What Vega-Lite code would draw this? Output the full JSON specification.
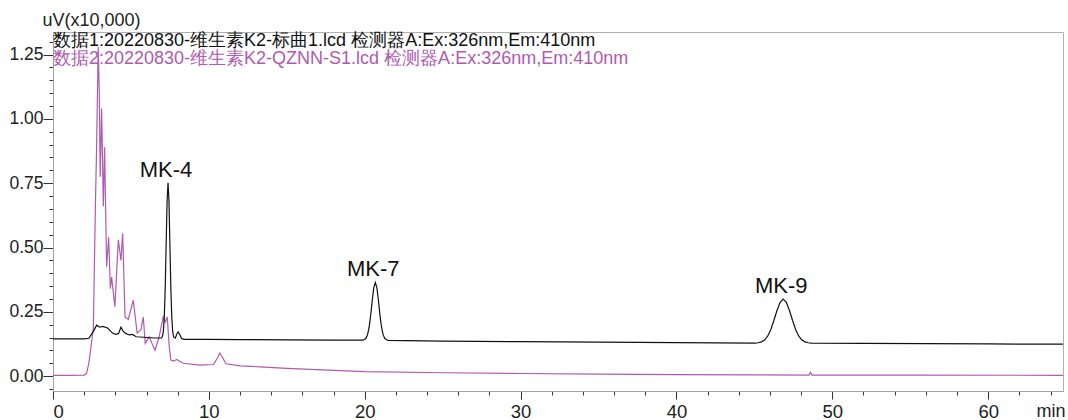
{
  "$schema": "https://vega.github.io/schema/vega-lite/v6.json",
  "width": 1010,
  "height": 359,
  "autosize": {"type": "none"},
  "padding": {"left": 53, "top": 32, "right": 5, "bottom": 29},
  "background": "white",
  "config": {
    "font": "Liberation Sans",
    "view": {"stroke": "#b0b0b0", "strokeWidth": 1},
    "axis": {"grid": false, "domainColor": "#a0a0a0", "tickColor": "#333333", "labelColor": "#222222", "labelFont": "Liberation Sans", "titleFont": "Liberation Sans", "titleFontWeight": "normal", "titleColor": "#222222"}
  },
  "title": {
    "text": "数据1:20220830-维生素K2-标曲1.lcd 检测器A:Ex:326nm,Em:410nm",
    "subtitle": "数据2:20220830-维生素K2-QZNN-S1.lcd 检测器A:Ex:326nm,Em:410nm",
    "anchor": "start",
    "frame": "group",
    "orient": "top",
    "offset": -57,
    "font": "Liberation Sans",
    "fontSize": 18,
    "fontWeight": "normal",
    "color": "#111111",
    "subtitleFont": "Liberation Sans",
    "subtitleFontSize": 18,
    "subtitleColor": "#b05ab0",
    "subtitlePadding": 0.5
  },
  "datasets": {
    "trace": [
      {"t": 0, "v": 0.145, "s": "数据1"},
      {"t": 1, "v": 0.145, "s": "数据1"},
      {"t": 2, "v": 0.145, "s": "数据1"},
      {"t": 2.3, "v": 0.147, "s": "数据1"},
      {"t": 2.6, "v": 0.175, "s": "数据1"},
      {"t": 2.8, "v": 0.198, "s": "数据1"},
      {"t": 3.0, "v": 0.19, "s": "数据1"},
      {"t": 3.2, "v": 0.193, "s": "数据1"},
      {"t": 3.5, "v": 0.187, "s": "数据1"},
      {"t": 3.8, "v": 0.168, "s": "数据1"},
      {"t": 4.0, "v": 0.162, "s": "数据1"},
      {"t": 4.2, "v": 0.165, "s": "数据1"},
      {"t": 4.36, "v": 0.19, "s": "数据1"},
      {"t": 4.5, "v": 0.175, "s": "数据1"},
      {"t": 4.66, "v": 0.166, "s": "数据1"},
      {"t": 4.9, "v": 0.16, "s": "数据1"},
      {"t": 5.1, "v": 0.162, "s": "数据1"},
      {"t": 5.34, "v": 0.153, "s": "数据1"},
      {"t": 5.6, "v": 0.152, "s": "数据1"},
      {"t": 6.0, "v": 0.15, "s": "数据1"},
      {"t": 6.5, "v": 0.148, "s": "数据1"},
      {"t": 6.96, "v": 0.148, "s": "数据1"},
      {"t": 7.02, "v": 0.154, "s": "数据1"},
      {"t": 7.08, "v": 0.173, "s": "数据1"},
      {"t": 7.14, "v": 0.229, "s": "数据1"},
      {"t": 7.2, "v": 0.343, "s": "数据1"},
      {"t": 7.26, "v": 0.514, "s": "数据1"},
      {"t": 7.32, "v": 0.681, "s": "数据1"},
      {"t": 7.38, "v": 0.752, "s": "数据1"},
      {"t": 7.44, "v": 0.681, "s": "数据1"},
      {"t": 7.5, "v": 0.514, "s": "数据1"},
      {"t": 7.56, "v": 0.343, "s": "数据1"},
      {"t": 7.62, "v": 0.229, "s": "数据1"},
      {"t": 7.68, "v": 0.173, "s": "数据1"},
      {"t": 7.74, "v": 0.152, "s": "数据1"},
      {"t": 7.85, "v": 0.148, "s": "数据1"},
      {"t": 7.95, "v": 0.165, "s": "数据1"},
      {"t": 8.03, "v": 0.172, "s": "数据1"},
      {"t": 8.12, "v": 0.163, "s": "数据1"},
      {"t": 8.25, "v": 0.146, "s": "数据1"},
      {"t": 8.4, "v": 0.143, "s": "数据1"},
      {"t": 10, "v": 0.143, "s": "数据1"},
      {"t": 12, "v": 0.142, "s": "数据1"},
      {"t": 15, "v": 0.141, "s": "数据1"},
      {"t": 18, "v": 0.14, "s": "数据1"},
      {"t": 19.88, "v": 0.14, "s": "数据1"},
      {"t": 19.98, "v": 0.142, "s": "数据1"},
      {"t": 20.08, "v": 0.147, "s": "数据1"},
      {"t": 20.18, "v": 0.161, "s": "数据1"},
      {"t": 20.28, "v": 0.189, "s": "数据1"},
      {"t": 20.38, "v": 0.236, "s": "数据1"},
      {"t": 20.48, "v": 0.293, "s": "数据1"},
      {"t": 20.58, "v": 0.344, "s": "数据1"},
      {"t": 20.68, "v": 0.364, "s": "数据1"},
      {"t": 20.78, "v": 0.344, "s": "数据1"},
      {"t": 20.88, "v": 0.293, "s": "数据1"},
      {"t": 20.98, "v": 0.236, "s": "数据1"},
      {"t": 21.08, "v": 0.189, "s": "数据1"},
      {"t": 21.18, "v": 0.161, "s": "数据1"},
      {"t": 21.28, "v": 0.147, "s": "数据1"},
      {"t": 21.38, "v": 0.142, "s": "数据1"},
      {"t": 21.5, "v": 0.139, "s": "数据1"},
      {"t": 25, "v": 0.136, "s": "数据1"},
      {"t": 30, "v": 0.134, "s": "数据1"},
      {"t": 35, "v": 0.132, "s": "数据1"},
      {"t": 40, "v": 0.13, "s": "数据1"},
      {"t": 45.05, "v": 0.128, "s": "数据1"},
      {"t": 45.25, "v": 0.1295, "s": "数据1"},
      {"t": 45.45, "v": 0.133, "s": "数据1"},
      {"t": 45.65, "v": 0.14, "s": "数据1"},
      {"t": 45.85, "v": 0.155, "s": "数据1"},
      {"t": 46.05, "v": 0.18, "s": "数据1"},
      {"t": 46.25, "v": 0.216, "s": "数据1"},
      {"t": 46.45, "v": 0.255, "s": "数据1"},
      {"t": 46.65, "v": 0.287, "s": "数据1"},
      {"t": 46.85, "v": 0.299, "s": "数据1"},
      {"t": 47.05, "v": 0.287, "s": "数据1"},
      {"t": 47.25, "v": 0.255, "s": "数据1"},
      {"t": 47.45, "v": 0.216, "s": "数据1"},
      {"t": 47.65, "v": 0.18, "s": "数据1"},
      {"t": 47.85, "v": 0.155, "s": "数据1"},
      {"t": 48.05, "v": 0.14, "s": "数据1"},
      {"t": 48.25, "v": 0.133, "s": "数据1"},
      {"t": 48.45, "v": 0.1295, "s": "数据1"},
      {"t": 48.65, "v": 0.128, "s": "数据1"},
      {"t": 52, "v": 0.127, "s": "数据1"},
      {"t": 56, "v": 0.126, "s": "数据1"},
      {"t": 60, "v": 0.125, "s": "数据1"},
      {"t": 64.8, "v": 0.124, "s": "数据1"},
      {"t": 0, "v": 0.003, "s": "数据2"},
      {"t": 1, "v": 0.003, "s": "数据2"},
      {"t": 2.0, "v": 0.004, "s": "数据2"},
      {"t": 2.15, "v": 0.01, "s": "数据2"},
      {"t": 2.3, "v": 0.05, "s": "数据2"},
      {"t": 2.45, "v": 0.12, "s": "数据2"},
      {"t": 2.59, "v": 0.19, "s": "数据2"},
      {"t": 2.66, "v": 0.45, "s": "数据2"},
      {"t": 2.72, "v": 0.66, "s": "数据2"},
      {"t": 2.8, "v": 0.9, "s": "数据2"},
      {"t": 2.9, "v": 1.28, "s": "数据2"},
      {"t": 2.97, "v": 1.1, "s": "数据2"},
      {"t": 3.03, "v": 0.775, "s": "数据2"},
      {"t": 3.12, "v": 1.04, "s": "数据2"},
      {"t": 3.23, "v": 0.66, "s": "数据2"},
      {"t": 3.31, "v": 0.89, "s": "数据2"},
      {"t": 3.44, "v": 0.425, "s": "数据2"},
      {"t": 3.57, "v": 0.54, "s": "数据2"},
      {"t": 3.68, "v": 0.34, "s": "数据2"},
      {"t": 3.76, "v": 0.385, "s": "数据2"},
      {"t": 3.97, "v": 0.27, "s": "数据2"},
      {"t": 4.19, "v": 0.53, "s": "数据2"},
      {"t": 4.36, "v": 0.45, "s": "数据2"},
      {"t": 4.47, "v": 0.555, "s": "数据2"},
      {"t": 4.62, "v": 0.23, "s": "数据2"},
      {"t": 4.83, "v": 0.22, "s": "数据2"},
      {"t": 5.15, "v": 0.295, "s": "数据2"},
      {"t": 5.4, "v": 0.167, "s": "数据2"},
      {"t": 5.64, "v": 0.18, "s": "数据2"},
      {"t": 5.79, "v": 0.23, "s": "数据2"},
      {"t": 5.92, "v": 0.127, "s": "数据2"},
      {"t": 6.17, "v": 0.153, "s": "数据2"},
      {"t": 6.54, "v": 0.1, "s": "数据2"},
      {"t": 6.8, "v": 0.15, "s": "数据2"},
      {"t": 7.07, "v": 0.23, "s": "数据2"},
      {"t": 7.2, "v": 0.21, "s": "数据2"},
      {"t": 7.33, "v": 0.23, "s": "数据2"},
      {"t": 7.45, "v": 0.12, "s": "数据2"},
      {"t": 7.56, "v": 0.062, "s": "数据2"},
      {"t": 7.75, "v": 0.058, "s": "数据2"},
      {"t": 7.93, "v": 0.065, "s": "数据2"},
      {"t": 8.35, "v": 0.05, "s": "数据2"},
      {"t": 9.42, "v": 0.043, "s": "数据2"},
      {"t": 10.3, "v": 0.045, "s": "数据2"},
      {"t": 10.55, "v": 0.07, "s": "数据2"},
      {"t": 10.7, "v": 0.09, "s": "数据2"},
      {"t": 10.85, "v": 0.075, "s": "数据2"},
      {"t": 11.1, "v": 0.048, "s": "数据2"},
      {"t": 12, "v": 0.04, "s": "数据2"},
      {"t": 13.27, "v": 0.036, "s": "数据2"},
      {"t": 15, "v": 0.03, "s": "数据2"},
      {"t": 18, "v": 0.022, "s": "数据2"},
      {"t": 20, "v": 0.017, "s": "数据2"},
      {"t": 25, "v": 0.013, "s": "数据2"},
      {"t": 30, "v": 0.01, "s": "数据2"},
      {"t": 35, "v": 0.008, "s": "数据2"},
      {"t": 40, "v": 0.006, "s": "数据2"},
      {"t": 45, "v": 0.005, "s": "数据2"},
      {"t": 48.5, "v": 0.004, "s": "数据2"},
      {"t": 48.6, "v": 0.015, "s": "数据2"},
      {"t": 48.7, "v": 0.004, "s": "数据2"},
      {"t": 55, "v": 0.004, "s": "数据2"},
      {"t": 64.8, "v": 0.003, "s": "数据2"}
    ],
    "labels": [
      {"label": "MK-4", "t": 7.38, "v": 0.752},
      {"label": "MK-7", "t": 20.68, "v": 0.364},
      {"label": "MK-9", "t": 46.85, "v": 0.299}
    ]
  },
  "resolve": {"axis": {"x": "independent", "y": "independent"}},
  "layer": [
    {
      "data": {"name": "trace"},
      "transform": [{"filter": "datum.s === '数据2'"}],
      "mark": {"type": "line", "color": "#b05ab0", "strokeWidth": 1.2, "clip": true},
      "encoding": {
        "x": {"field": "t", "type": "quantitative", "scale": {"domain": [0, 64.8], "nice": false, "zero": false},
          "axis": {"orient": "bottom", "values": [0, 10, 20, 30, 40, 50, 60], "tickSize": 8, "labelFontSize": 18.5, "labelPadding": 3, "title": "min", "titleFontSize": 18, "titleAnchor": "end", "titleAlign": "right", "titleX": 1012, "titleY": 20, "titleBaseline": "middle"}},
        "y": {"field": "v", "type": "quantitative", "scale": {"domain": [-0.058, 1.338], "nice": false, "zero": false},
          "axis": {"orient": "left", "values": [0, 0.25, 0.5, 0.75, 1.0, 1.25], "format": ".2f", "tickSize": 10, "labelFontSize": 17.5, "labelPadding": 0, "title": "uV(x10,000)", "titleFontSize": 18, "titleAngle": 0, "titleAlign": "left", "titleBaseline": "middle", "titleX": -11, "titleY": -12}}
      }
    },
    {
      "data": {"name": "trace"},
      "transform": [{"filter": "datum.s === '数据1'"}],
      "mark": {"type": "line", "color": "#111111", "strokeWidth": 1.2, "clip": true},
      "encoding": {
        "x": {"field": "t", "type": "quantitative",
          "axis": {"orient": "bottom", "values": [0, 2, 4, 6, 8, 10, 12, 14, 16, 18, 20, 22, 24, 26, 28, 30, 32, 34, 36, 38, 40, 42, 44, 46, 48, 50, 52, 54, 56, 58, 60, 62, 64], "tickSize": 4, "labels": false, "title": null}},
        "y": {"field": "v", "type": "quantitative",
          "axis": {"orient": "left", "values": [-0.05, 0, 0.05, 0.1, 0.15, 0.2, 0.25, 0.3, 0.35, 0.4, 0.45, 0.5, 0.55, 0.6, 0.65, 0.7, 0.75, 0.8, 0.85, 0.9, 0.95, 1.0, 1.05, 1.1, 1.15, 1.2, 1.25, 1.3], "tickSize": 4, "labels": false, "title": null}}
      }
    },
    {
      "data": {"name": "labels"},
      "mark": {"type": "text", "fontSize": 22, "color": "#111111", "baseline": "alphabetic", "align": "center", "dy": -6, "dx": -2},
      "encoding": {
        "x": {"field": "t", "type": "quantitative", "axis": null},
        "y": {"field": "v", "type": "quantitative", "axis": null},
        "text": {"field": "label"}
      }
    }
  ]
}
